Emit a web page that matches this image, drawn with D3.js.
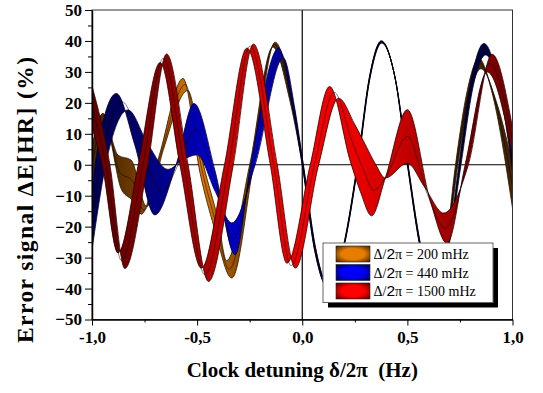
<!DOCTYPE html>
<html lang="en">
<head>
<meta charset="UTF-8">
<title>Error signal vs clock detuning</title>
<script src="https://cdn.jsdelivr.net/npm/d3@7"></script>
<style>
  body { margin: 0; background: #fff; }
  text { font-family: "Liberation Serif", "Times New Roman", serif; }
</style>
</head>
<body>
<div id="chart"></div>
<script>
// axis ticks
var xTicks = [-1, -0.5, 0, 0.5, 1];
var xTickLabels = ["-1,0", "-0,5", "0,0", "0,5", "1,0"];
var xMinor = [-0.75, -0.25, 0.25, 0.75];
var yTicks = [50, 40, 30, 20, 10, 0, -10, -20, -30, -40, -50];
var yMinor = [45, 35, 25, 15, 5, -5, -15, -25, -35, -45];
var seriesLabels = ["200 mHz", "440 mHz", "1500 mHz"];

// each ribbon = two edge curves [detuning (Hz), signal (%)], same feature at same index
var orangeEdgeA = [[-1.0, 6], [-0.948, 16.6], [-0.876, 3.1], [-0.814, 1.5], [-0.74, -13.5], [-0.66, 5],
  [-0.545, 24], [-0.47, 0], [-0.40, -18], [-0.36, -31], [-0.25, 0], [-0.14, 38], [-0.06, 21], [0.0, 0],
  [0.06, -28], [0.12, -39.5], [0.19, -28], [0.262, 0], [0.32, 28.5], [0.376, 40], [0.44, 28.5], [0.5, 0],
  [0.565, -28], [0.63, -39], [0.68, -27.5], [0.729, 0], [0.785, 24], [0.84, 34.4], [0.90, 24], [1.0, -14]];
var orangeEdgeB = [[-1.0, -6], [-0.935, 12], [-0.86, -8], [-0.80, -12], [-0.765, -16], [-0.68, 3],
  [-0.567, 27.9], [-0.486, -2.7], [-0.42, -20], [-0.335, -36.6], [-0.232, 0], [-0.129, 39.6], [-0.05, 22], [0.005, 0],
  [0.065, -27.5], [0.125, -39], [0.195, -27.5], [0.265, 0], [0.322, 28], [0.378, 39.5], [0.442, 28], [0.503, 0],
  [0.568, -27.5], [0.635, -38.5], [0.688, -27], [0.74, 0], [0.795, 22], [0.85, 31], [0.925, 20], [1.0, 0]];

var blueEdgeA = [[-1.0, -8.6], [-0.985, 0], [-0.884, 23], [-0.797, 6.5], [-0.701, -16.2], [-0.60, 0],
  [-0.515, 19.8], [-0.414, -2.2], [-0.319, -29.1], [-0.245, 0], [-0.112, 37.7], [-0.05, 20], [0.0, 0],
  [0.06, -28], [0.12, -39.5], [0.19, -28], [0.262, 0], [0.32, 28.5], [0.376, 40], [0.44, 28.5], [0.5, 0],
  [0.565, -28], [0.63, -39], [0.69, -27.5], [0.745, 0], [0.805, 28], [0.864, 39.2], [0.935, 26], [1.0, -2]];
var blueEdgeB = [[-1.0, -27.5], [-0.935, 0], [-0.829, 17.7], [-0.733, 6.5], [-0.638, -1.5], [-0.57, 1.5],
  [-0.50, 3.2], [-0.414, -8.6], [-0.335, -18.8], [-0.224, 0], [-0.09, 34.5], [-0.035, 18], [0.005, 0],
  [0.065, -27.5], [0.125, -39], [0.195, -27.5], [0.265, 0], [0.322, 28], [0.378, 39.3], [0.442, 28], [0.503, 0],
  [0.568, -27.5], [0.635, -38.5], [0.695, -27], [0.755, 0], [0.815, 26], [0.872, 35.5], [0.94, 25], [1.0, 6]];

var redEdgeA = [[-1.0, 12], [-0.952, 0], [-0.876, -28.5], [-0.78, 0], [-0.676, 33], [-0.582, 0],
  [-0.48, -33.4], [-0.37, 0], [-0.263, 37.7], [-0.152, 0], [-0.073, -31.8], [0.038, 0], [0.13, 25.3],
  [0.229, 1], [0.276, -8.6], [0.33, -16.5], [0.395, -4.3], [0.5, 17.8], [0.61, -12], [0.689, -25.4],
  [0.775, 0], [0.88, 30], [1.0, 3]];
var redEdgeB = [[-1.0, 25.5], [-0.915, 0], [-0.844, -33.5], [-0.735, 0], [-0.645, 35.8], [-0.543, 0],
  [-0.446, -37.7], [-0.328, 0], [-0.232, 39], [-0.119, 0], [-0.033, -33.4], [0.078, 0], [0.173, 21.5],
  [0.25, 13], [0.30, 6.5], [0.35, 0], [0.395, -4.3], [0.5, 0.5], [0.58, -7], [0.673, -15.6],
  [0.79, 0], [0.903, 35.7], [1.0, 12]];

var margin = {top: 10, right: 30.5, bottom: 73.5, left: 92},
    width = 543 - margin.left - margin.right,
    height = 393 - margin.top - margin.bottom;

var svg = d3.select("#chart").append("svg")
    .attr("width", 543).attr("height", 393);
var defs = svg.append("defs");
var g = svg.append("g")
    .attr("transform", "translate(" + margin.left + "," + margin.top + ")");

var x = d3.scaleLinear().domain([-1, 1]).range([0, width]);
var y = d3.scaleLinear().domain([-50, 50]).range([height, 0]);

defs.append("clipPath").attr("id", "plotclip")
  .append("rect").attr("width", width).attr("height", height);

// zero lines
g.append("line").attr("x1", 0).attr("x2", width).attr("y1", y(0)).attr("y2", y(0))
  .attr("stroke", "#000").attr("stroke-width", 1.2);
g.append("line").attr("x1", x(0)).attr("x2", x(0)).attr("y1", 0).attr("y2", height)
  .attr("stroke", "#000").attr("stroke-width", 1.2);

var series = [
  {label: seriesLabels[0], a: orangeEdgeA, b: orangeEdgeB, dark: "#2a1500", bright: "#e67c00", edge: "#2a1400", wc: -0.52, ww: 0.26, sw: 0.15},
  {label: seriesLabels[1], a: blueEdgeA, b: blueEdgeB, dark: "#00002a", bright: "#0000f5", edge: "#000020", wc: -0.35, ww: 0.42, sw: 0.3},
  {label: seriesLabels[2], a: redEdgeA, b: redEdgeB, dark: "#300000", bright: "#ff0000", edge: "#2a0000", wc: 0.08, ww: 0.75, sw: 0.1}
];

var line = d3.line()
    .x(function(d) { return x(d[0]); })
    .y(function(d) { return y(d[1]); })
    .curve(d3.curveMonotoneX);

var ribbons = g.append("g").attr("clip-path", "url(#plotclip)");

series.forEach(function(s, k) {
  var mid = s.a.map(function(p, i) { return [(p[0] + s.b[i][0]) / 2, (p[1] + s.b[i][1]) / 2]; });

  // shading along the ribbon, brighter on the steep parts and near the centre of each series
  var grad = defs.append("linearGradient").attr("id", "rib" + k)
      .attr("gradientUnits", "userSpaceOnUse")
      .attr("x1", x(-1)).attr("x2", x(1)).attr("y1", 0).attr("y2", 0);
  var col = d3.interpolateRgb(s.dark, s.bright);
  mid.forEach(function(p, i) {
    var p0 = mid[Math.max(0, i - 1)], p1 = mid[Math.min(mid.length - 1, i + 1)];
    var slope = Math.abs((p1[1] - p0[1]) / (p1[0] - p0[0]));
    var sn = Math.min(1, slope / 400);
    var w = Math.exp(-Math.pow((p[0] - s.wc) / s.ww, 2));
    var t = (0.15 + 0.85 * w) * (1 - s.sw + s.sw * sn);
    grad.append("stop").attr("offset", (p[0] + 1) / 2).attr("stop-color", col(t));
  });

  var pa = line(s.a), pb = line(s.b.slice().reverse());
  ribbons.append("path")
    .attr("d", pa + "L" + pb.slice(1) + "Z")
    .attr("fill", "url(#rib" + k + ")")
    .attr("stroke", s.edge).attr("stroke-width", 0.8)
    .attr("stroke-linejoin", "round");
  ribbons.append("path")
    .attr("d", line(mid))
    .attr("fill", "none").attr("stroke", "#000").attr("stroke-width", 0.5);
});

// frame
g.append("rect").attr("width", width).attr("height", height)
  .attr("fill", "none").attr("stroke", "#333").attr("stroke-width", 1);

// axes
g.append("g").attr("transform", "translate(0," + height + ")")
  .call(d3.axisBottom(x).tickValues(xTicks).tickSize(6).tickSizeOuter(0).tickPadding(5)
    .tickFormat(function(d, i) { return xTickLabels[i]; }));
g.append("g").attr("transform", "translate(0," + height + ")")
  .call(d3.axisBottom(x).tickValues(xMinor).tickSize(3).tickSizeOuter(0).tickFormat(""))
  .select(".domain").remove();
g.append("g")
  .call(d3.axisLeft(y).tickValues(yTicks).tickSize(7).tickSizeOuter(0).tickPadding(3));
g.append("g")
  .call(d3.axisLeft(y).tickValues(yMinor).tickSize(4).tickSizeOuter(0).tickFormat(""))
  .select(".domain").remove();

g.selectAll(".domain").attr("stroke", "#000").attr("stroke-width", 1.5);
g.selectAll(".tick line").attr("stroke", "#000").attr("stroke-width", 1);
g.selectAll(".tick text")
  .attr("font-weight", "bold").attr("font-size", 17).attr("fill", "#000");

// axis titles
svg.append("text")
  .attr("x", margin.left + x(0)).attr("y", 377)
  .attr("text-anchor", "middle").attr("font-weight", "bold").attr("font-size", 21)
  .text("Clock detuning \u03b4/2\u03c0 \u00a0(Hz)");
svg.append("text")
  .attr("transform", "translate(33,200) rotate(-90)")
  .attr("text-anchor", "middle").attr("font-weight", "bold").attr("font-size", 23.5)
  .attr("textLength", 286).attr("lengthAdjust", "spacing")
  .text("Error signal \u0394E[HR] (%)");

// legend
var lg = svg.append("g").attr("transform", "translate(323,243)");
lg.append("rect").attr("x", 5).attr("y", 5).attr("width", 170).attr("height", 59.5).attr("fill", "#000");
lg.append("rect").attr("width", 170).attr("height", 59.5)
  .attr("fill", "#fff").attr("stroke", "#666").attr("stroke-width", 1);

series.forEach(function(s, k) {
  var rg = defs.append("radialGradient").attr("id", "sw" + k).attr("r", 0.75);
  rg.append("stop").attr("offset", 0).attr("stop-color", s.bright);
  rg.append("stop").attr("offset", 0.45).attr("stop-color", s.bright);
  rg.append("stop").attr("offset", 1).attr("stop-color", s.dark);
  var row = lg.append("g").attr("transform", "translate(13," + (3 + k * 18.5) + ")");
  row.append("rect").attr("width", 34).attr("height", 16)
    .attr("fill", "url(#sw" + k + ")").attr("stroke", "#222").attr("stroke-width", 0.6);
  var t = row.append("text").attr("x", 37.5).attr("y", 13).attr("font-size", 14);
  t.append("tspan").text("\u0394/");
  t.append("tspan").attr("font-family", "Liberation Sans, Arial, sans-serif").attr("font-size", 15.5).text("2");
  t.append("tspan").text("\u03c0 = " + s.label);
});
</script>
</body>
</html>
